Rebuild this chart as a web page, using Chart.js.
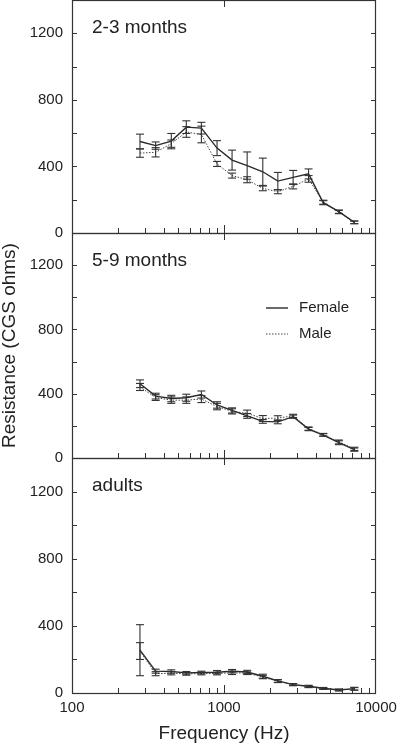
<!DOCTYPE html>
<html>
<head>
<meta charset="utf-8">
<script src="https://cdn.jsdelivr.net/npm/chart.js@4.4.0/dist/chart.umd.min.js"></script>
<style>
  body { margin: 0; background: #fff; width: 400px; height: 746px; overflow: hidden; position: relative; }
  canvas { position: absolute; left: 0; }
</style>
</head>
<body>
<canvas id="p1" width="400" height="273" style="top:-20px"></canvas>
<canvas id="p2" width="400" height="265" style="top:213px"></canvas>
<canvas id="p3" width="400" height="308" style="top:438px"></canvas>
<script>
// frequencias (Hz), 1/3 de oitava
var freqs = [280, 355, 450, 565, 710, 900, 1130, 1420, 1800, 2260, 2850, 3600, 4500, 5700, 7200];

// 2-3 meses
var f23 = [550, 525, 552, 636, 630, 510, 438, 405, 368, 312, 334, 355, 182, 128, 64];
var f23err = [44, 22, 46, 38, 35, 45, 60, 82, 82, 52, 42, 30, 12, 10, 8];
var m23 = [480, 485, 537, 607, 592, 415, 345, 320, 268, 248, 280, 325, 185, 126, 64];
var m23err = [25, 28, 22, 32, 50, 15, 15, 18, 14, 12, 15, 20, 12, 10, 8];

// 5-9 meses
var f59 = [462, 385, 370, 375, 395, 330, 296, 262, 228, 225, 257, 180, 143, 95, 52];
var f59err = [24, 18, 20, 22, 22, 20, 16, 15, 12, 12, 10, 10, 8, 12, 10];
var m59 = [442, 376, 360, 360, 367, 320, 290, 278, 246, 248, 262, 183, 145, 100, 57];
var m59err = [22, 18, 20, 20, 22, 20, 16, 20, 18, 15, 10, 10, 8, 12, 10];

// adultos
var fAd = [255, 130, 128, 120, 122, 124, 130, 125, 100, 72, 50, 40, 28, 18, 26];
var fAdErr = [152, 12, 10, 8, 8, 10, 10, 10, 12, 8, 6, 6, 5, 5, 8];
var mAd = [250, 115, 118, 114, 116, 116, 120, 118, 95, 70, 50, 38, 26, 18, 24];
var mAdErr = [50, 12, 10, 8, 8, 8, 10, 8, 10, 8, 6, 6, 5, 5, 8];

// marcas dos eixos
var xTicks = [100, 200, 300, 400, 500, 600, 700, 800, 900, 1000, 2000, 3000, 4000, 5000, 6000, 7000, 8000, 9000, 10000];
var xLabels = [100, 1000, 10000];
var yTicks = [0, 200, 400, 600, 800, 1000, 1200, 1400];
var yLabels = [0, 400, 800, 1200];

Chart.defaults.font.family = "'Liberation Sans', Arial, sans-serif";
Chart.defaults.color = '#222';

function line(ctx, x1, y1, x2, y2) {
    ctx.beginPath();
    ctx.moveTo(x1, y1);
    ctx.lineTo(x2, y2);
    ctx.stroke();
}

// barras de erro, moldura, marcas internas, rotulo e legenda
var panelPlugin = {
    id: 'panel',
    afterDatasetsDraw: function (chart, args, opts) {
        var ctx = chart.ctx, a = chart.chartArea;
        var xs = chart.scales.x, ys = chart.scales.y;
        ctx.save();

        // barras de erro
        chart.data.datasets.forEach(function (ds, i) {
            var meta = chart.getDatasetMeta(i);
            ctx.strokeStyle = '#333';
            ctx.lineWidth = 1.1;
            ctx.setLineDash([]);
            meta.data.forEach(function (pt, j) {
                var v = ds.data[j].y, e = ds.errors[j];
                var x = pt.x;
                var yt = ys.getPixelForValue(v + e), yb = ys.getPixelForValue(v - e);
                line(ctx, x, yt, x, yb);
                line(ctx, x - 4, yt, x + 4, yt);
                line(ctx, x - 4, yb, x + 4, yb);
            });
        });

        // moldura
        ctx.strokeStyle = '#333';
        ctx.lineWidth = 1.2;
        ctx.strokeRect(a.left + 0.5, a.top + 0.5, a.right - a.left - 1, a.bottom - a.top);

        // marcas para dentro
        ctx.lineWidth = 1;
        yTicks.forEach(function (v) {
            if (v <= 0 || v >= 1400) return;
            var y = Math.round(ys.getPixelForValue(v)) + 0.5;
            line(ctx, a.left, y, a.left + 5, y);
            line(ctx, a.right, y, a.right - 5, y);
        });
        xTicks.forEach(function (v) {
            if (v <= 100 || v >= 10000) return;
            var x = Math.round(xs.getPixelForValue(v)) + 0.5;
            var major = xLabels.indexOf(v) >= 0;
            line(ctx, x, a.bottom, x, a.bottom - (major ? 8 : 5));
            if (major) line(ctx, x, a.top, x, a.top + 7);
        });

        // rotulo do painel
        ctx.fillStyle = '#222';
        ctx.font = "19px 'Liberation Sans', Arial, sans-serif";
        ctx.textBaseline = 'alphabetic';
        ctx.textAlign = 'left';
        ctx.fillText(opts.label, a.left + 20, a.top + 33);

        // legenda
        if (opts.legend) {
            ctx.font = "15px 'Liberation Sans', Arial, sans-serif";
            ctx.textBaseline = 'middle';
            chart.data.datasets.forEach(function (ds, i) {
                var y = a.top + 75 + i * 26;
                ctx.strokeStyle = ds.borderColor;
                ctx.lineWidth = ds.borderWidth;
                ctx.setLineDash(ds.borderDash || []);
                line(ctx, a.left + 194, y, a.left + 216, y);
                ctx.setLineDash([]);
                ctx.fillText(ds.label, a.left + 227, y);
            });
        }
        ctx.restore();
    }
};

function makePanel(id, label, fMean, fErr, mMean, mErr, cfg) {
    var ctx = document.getElementById(id).getContext('2d');
    return new Chart(ctx, {
        type: 'line',
        data: {
            datasets: [{
                label: 'Female',
                data: freqs.map(function (f, i) { return { x: f, y: fMean[i] }; }),
                errors: fErr,
                borderColor: '#2a2a2a',
                borderWidth: 1.4,
                pointRadius: 0,
                tension: 0,
                fill: false
            }, {
                label: 'Male',
                data: freqs.map(function (f, i) { return { x: f, y: mMean[i] }; }),
                errors: mErr,
                borderColor: '#444',
                borderWidth: 1,
                borderDash: [1.5, 1.5],
                pointRadius: 0,
                tension: 0,
                fill: false
            }]
        },
        options: {
            responsive: false,
            animation: false,
            layout: { padding: { top: 20, bottom: cfg.showX ? 0 : 20, left: 0, right: 24 } },
            plugins: {
                legend: { display: false },
                tooltip: { enabled: false },
                panel: { label: label, legend: cfg.legend }
            },
            scales: {
                x: {
                    type: 'logarithmic',
                    min: 100,
                    max: 10000,
                    display: cfg.showX,
                    afterBuildTicks: function (s) { s.ticks = xTicks.map(function (v) { return { value: v }; }); },
                    afterFit: function (s) {
                        if (cfg.showX) s.height = 53;
                        s.paddingLeft = 0;
                        s.paddingRight = 0;
                    },
                    grid: { display: false, drawTicks: false },
                    border: { display: false },
                    ticks: {
                        autoSkip: false, maxRotation: 0, minRotation: 0, padding: 6,
                        font: { size: 15 },
                        callback: function (v) { return xLabels.indexOf(v) >= 0 ? String(v) : ''; }
                    },
                    title: {
                        display: cfg.showX, text: 'Frequency (Hz)',
                        font: { size: 19, lineHeight: 1 }, padding: { top: 0, bottom: 3 }
                    }
                },
                y: {
                    min: 0,
                    max: 1400,
                    afterBuildTicks: function (s) { s.ticks = yTicks.map(function (v) { return { value: v }; }); },
                    afterFit: function (s) { s.width = 72; },
                    grid: { display: false, drawTicks: false },
                    border: { display: false },
                    ticks: {
                        padding: 9,
                        font: { size: 15 },
                        callback: function (v) { return yLabels.indexOf(v) >= 0 ? String(v) : ''; }
                    },
                    title: {
                        display: cfg.yTitle, text: 'Resistance (CGS ohms)',
                        font: { size: 19, lineHeight: 1 }, padding: 0
                    }
                }
            }
        },
        plugins: [panelPlugin]
    });
}

makePanel('p1', '2-3 months', f23, f23err, m23, m23err, { showX: false, legend: false, yTitle: false });
makePanel('p2', '5-9 months', f59, f59err, m59, m59err, { showX: false, legend: true, yTitle: true });
makePanel('p3', 'adults', fAd, fAdErr, mAd, mAdErr, { showX: true, legend: false, yTitle: false });
</script>
</body>
</html>
